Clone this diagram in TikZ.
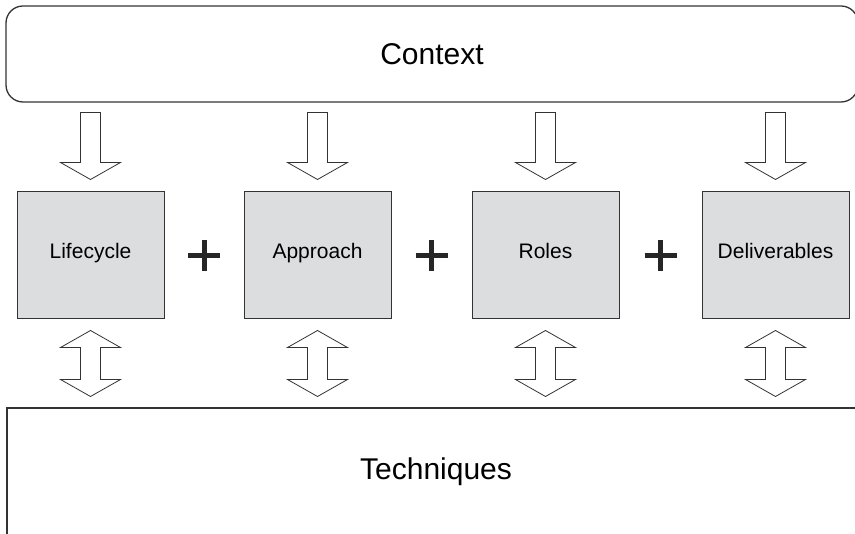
\documentclass[tikz,border=0pt]{standalone}
\usepackage{fontspec}
\setmainfont{Liberation Sans}
\usetikzlibrary{positioning,calc}
\definecolor{boxgray}{HTML}{DCDDDF}
\definecolor{linegray}{HTML}{333333}
\tikzset{
  framebox/.style={draw=linegray, line width=1.3pt, fill=white, inner sep=0pt,
    font=\fontsize{30}{36}\selectfont},
  partbox/.style={draw=linegray, line width=1pt, fill=boxgray, inner sep=0pt,
    minimum width=147pt, minimum height=127pt, text height=0.72em, text depth=0.2em,
    font=\fontsize{21}{25}\selectfont},
  fatarrow/.style={draw=linegray, line width=0.8pt, fill=white, line join=miter},
  plusmark/.style={draw=black!85, line width=5pt},
  infeed/.pic={
    \draw[fatarrow] (0,0) -- (30,-17) -- (10,-17) -- (10,-67) -- (-10,-67)
      -- (-10,-17) -- (-30,-17) -- cycle;
  },
  exchange/.pic={
    \draw[fatarrow] (0,0) -- (30,17) -- (10,17) -- (10,49) -- (30,49) -- (0,66)
      -- (-30,49) -- (-10,49) -- (-10,17) -- (-30,17) -- cycle;
  },
}

\begin{document}
\begin{tikzpicture}[x=1pt, y=-1pt]
  \clip (0,0) rectangle (855,534);
  \node[framebox, rounded corners=17pt, minimum width=852pt, minimum height=96pt] (ctx) at (432,54) {Context};
  \node[framebox, minimum width=858pt, minimum height=128pt] (tech) at (436,472) {Techniques};
  % the four parts
  \foreach \nm/\xc/\txt in {l1/90.5/Lifecycle, l2/317.5/Approach, l3/545.5/Roles, l4/775.5/Deliverables}
    \node[partbox] (\nm) at (\xc,255.5) {\txt};
  % arrows from context and to techniques
  \foreach \nm in {l1,l2,l3,l4} {
    \pic at ([yshift=12pt]\nm.north) {infeed};
    \pic at ([yshift=-11pt]\nm.south) {exchange};
  }
  % plus signs
  \foreach \a/\b/\p in {l1/l2/p1, l2/l3/p2, l3/l4/p3} {
    \coordinate (\p) at ($(\a.east)!0.5!(\b.west)$);
    \draw[plusmark] ([xshift=-16pt]\p) -- ([xshift=16pt]\p)
      ([yshift=-15.5pt]\p) -- ([yshift=15.5pt]\p);
  }
\end{tikzpicture}
\end{document}
